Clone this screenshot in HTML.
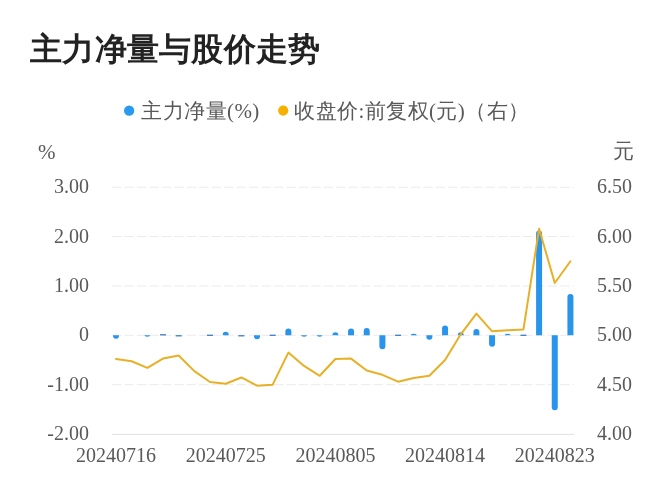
<!DOCTYPE html>
<html><head><meta charset="utf-8"><style>
html,body{margin:0;padding:0;background:#fff;}
body{width:672px;height:500px;position:relative;overflow:hidden;}
.title{will-change:transform;position:absolute;left:29.5px;top:28.8px;letter-spacing:0.25px;font-family:"Liberation Sans",sans-serif;font-weight:bold;font-size:32px;line-height:40px;color:#222;white-space:nowrap;}
svg{position:absolute;left:0;top:0;will-change:transform;}
.ax{font-family:"Liberation Serif",serif;font-size:20px;fill:#595959;}
.lg{font-family:"Liberation Serif",serif;font-size:21px;letter-spacing:0.4px;fill:#595959;}
</style></head><body>
<div class="title">主力净量与股价走势</div>
<svg width="672" height="500" viewBox="0 0 672 500">
<circle cx="129.15" cy="110.7" r="5.15" fill="#2a9af0"/>
<text x="141.4" y="118.4" class="lg">主力净量(%)</text>
<circle cx="283.2" cy="110.6" r="5.1" fill="#f5b000"/>
<text x="294.4" y="118.4" class="lg">收盘价:前复权(元)（右）</text>
<text x="38" y="158.6" class="lg">%</text>
<text x="613" y="157.9" class="lg">元</text>
<line x1="112.0" y1="187.22" x2="574.0" y2="187.22" stroke="#ebebeb" stroke-width="1" stroke-dasharray="9.5 2.95"/>
<line x1="112.0" y1="236.58" x2="574.0" y2="236.58" stroke="#ebebeb" stroke-width="1" stroke-dasharray="9.5 2.95"/>
<line x1="112.0" y1="285.94" x2="574.0" y2="285.94" stroke="#ebebeb" stroke-width="1" stroke-dasharray="9.5 2.95"/>
<line x1="112.0" y1="335.30" x2="574.0" y2="335.30" stroke="#ebebeb" stroke-width="1" stroke-dasharray="9.5 2.95"/>
<line x1="112.0" y1="384.66" x2="574.0" y2="384.66" stroke="#ebebeb" stroke-width="1" stroke-dasharray="9.5 2.95"/>
<line x1="112.0" y1="434.4" x2="574.0" y2="434.4" stroke="#e0e0e0" stroke-width="1"/>
<path d="M113.00,335.30L113.00,335.76A3.00,3.00 0 0 0 119.00,335.76L119.00,335.30Z" fill="#2894ec"/>
<path d="M144.34,335.30L144.34,335.30A3.00,1.48 0 0 0 150.34,335.30L150.34,335.30Z" fill="#2894ec"/>
<rect x="160.01" y="334.15" width="6.0" height="1.3" fill="#3a7fc6"/>
<rect x="175.68" y="335.15" width="6.0" height="1.3" fill="#3a7fc6"/>
<rect x="207.02" y="334.65" width="6.0" height="1.3" fill="#3a7fc6"/>
<path d="M222.69,335.30L222.69,334.84A3.00,3.00 0 0 1 228.69,334.84L228.69,335.30Z" fill="#2894ec"/>
<rect x="238.36" y="335.15" width="6.0" height="1.3" fill="#3a7fc6"/>
<path d="M254.03,335.30L254.03,336.25A3.00,3.00 0 0 0 260.03,336.25L260.03,335.30Z" fill="#2894ec"/>
<rect x="269.70" y="334.65" width="6.0" height="1.3" fill="#3a7fc6"/>
<path d="M285.37,335.30L285.37,331.39A3.00,3.00 0 0 1 291.37,331.39L291.37,335.30Z" fill="#2894ec"/>
<path d="M301.04,335.30L301.04,335.30A3.00,1.48 0 0 0 307.04,335.30L307.04,335.30Z" fill="#2894ec"/>
<path d="M316.71,335.30L316.71,335.30A3.00,1.48 0 0 0 322.71,335.30L322.71,335.30Z" fill="#2894ec"/>
<path d="M332.38,335.30L332.38,335.30A3.00,2.96 0 0 1 338.38,335.30L338.38,335.30Z" fill="#2894ec"/>
<path d="M348.05,335.30L348.05,331.39A3.00,3.00 0 0 1 354.05,331.39L354.05,335.30Z" fill="#2894ec"/>
<path d="M363.72,335.30L363.72,330.90A3.00,3.00 0 0 1 369.72,330.90L369.72,335.30Z" fill="#2894ec"/>
<path d="M379.39,335.30L379.39,346.37A3.00,3.00 0 0 0 385.39,346.37L385.39,335.30Z" fill="#2894ec"/>
<rect x="395.06" y="334.65" width="6.0" height="1.3" fill="#3a7fc6"/>
<path d="M410.73,335.30L410.73,335.30A3.00,1.48 0 0 1 416.73,335.30L416.73,335.30Z" fill="#2894ec"/>
<path d="M426.40,335.30L426.40,336.74A3.00,3.00 0 0 0 432.40,336.74L432.40,335.30Z" fill="#2894ec"/>
<path d="M442.07,335.30L442.07,328.43A3.00,3.00 0 0 1 448.07,328.43L448.07,335.30Z" fill="#2894ec"/>
<path d="M457.74,335.30L457.74,335.30A3.00,2.96 0 0 1 463.74,335.30L463.74,335.30Z" fill="#2894ec"/>
<path d="M473.41,335.30L473.41,331.88A3.00,3.00 0 0 1 479.41,331.88L479.41,335.30Z" fill="#2894ec"/>
<path d="M489.08,335.30L489.08,343.65A3.00,3.00 0 0 0 495.08,343.65L495.08,335.30Z" fill="#2894ec"/>
<path d="M504.75,335.30L504.75,335.30A3.00,1.48 0 0 1 510.75,335.30L510.75,335.30Z" fill="#2894ec"/>
<rect x="520.42" y="334.65" width="6.0" height="1.3" fill="#3a7fc6"/>
<path d="M536.09,335.30L536.09,233.41A3.00,3.00 0 0 1 542.09,233.41L542.09,335.30Z" fill="#2894ec"/>
<path d="M551.76,335.30L551.76,407.33A3.00,3.00 0 0 0 557.76,407.33L557.76,335.30Z" fill="#2894ec"/>
<path d="M567.43,335.30L567.43,297.08A3.00,3.00 0 0 1 573.43,297.08L573.43,335.30Z" fill="#2894ec"/>
<polyline points="116.00,358.99 131.67,361.26 147.34,367.88 163.01,358.60 178.68,355.54 194.35,371.14 210.02,381.99 225.69,383.77 241.36,377.45 257.03,385.65 272.70,384.66 288.37,352.58 304.04,365.90 319.71,375.78 335.38,358.99 351.05,358.60 366.72,370.44 382.39,374.79 398.06,381.70 413.73,377.95 429.40,375.78 445.07,359.98 460.74,334.31 476.41,313.58 492.08,331.35 507.75,330.36 523.42,329.57 539.09,228.68 554.76,282.98 570.43,261.26" fill="none" stroke="#e8b026" stroke-width="2" stroke-linejoin="round" stroke-linecap="round"/>
<text x="89" y="193.32" text-anchor="end" class="ax">3.00</text>
<text x="597" y="193.32" class="ax">6.50</text>
<text x="89" y="242.68" text-anchor="end" class="ax">2.00</text>
<text x="597" y="242.68" class="ax">6.00</text>
<text x="89" y="292.04" text-anchor="end" class="ax">1.00</text>
<text x="597" y="292.04" class="ax">5.50</text>
<text x="89" y="341.40" text-anchor="end" class="ax">0</text>
<text x="597" y="341.40" class="ax">5.00</text>
<text x="89" y="390.76" text-anchor="end" class="ax">-1.00</text>
<text x="597" y="390.76" class="ax">4.50</text>
<text x="89" y="440.12" text-anchor="end" class="ax">-2.00</text>
<text x="597" y="440.12" class="ax">4.00</text>
<text x="116.00" y="462" text-anchor="middle" class="ax">20240716</text>
<text x="225.69" y="462" text-anchor="middle" class="ax">20240725</text>
<text x="335.38" y="462" text-anchor="middle" class="ax">20240805</text>
<text x="445.07" y="462" text-anchor="middle" class="ax">20240814</text>
<text x="554.76" y="462" text-anchor="middle" class="ax">20240823</text>
</svg>
</body></html>
